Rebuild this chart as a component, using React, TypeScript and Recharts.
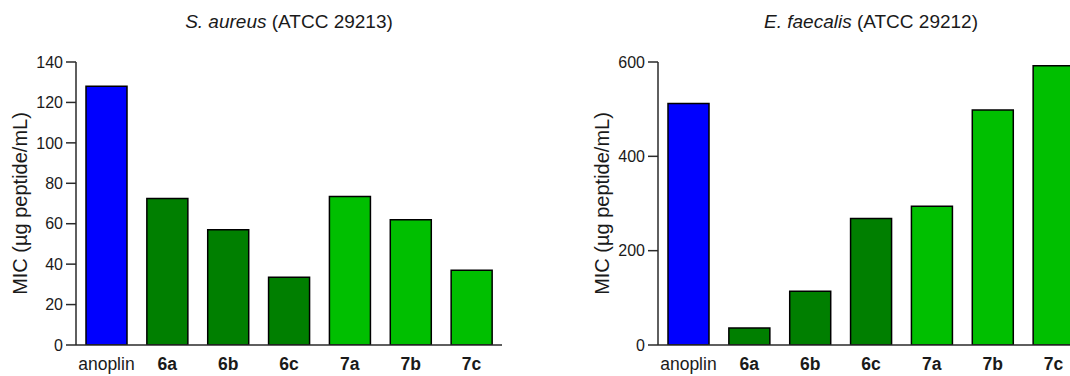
import React from "react";
import { BarChart, Bar, XAxis, YAxis, Cell } from "recharts";

const categories = ["anoplin", "6a", "6b", "6c", "7a", "7b", "7c"];
const aureusMic = [128, 72.5, 57, 33.5, 73.5, 62, 37];
const faecalisMic = [512, 36, 114, 268, 294, 498, 592];
const barColors = ["#0000FF", "#007F00", "#007F00", "#007F00", "#00BF00", "#00BF00", "#00BF00"];
const aureusTicks = [0, 20, 40, 60, 80, 100, 120, 140];
const faecalisTicks = [0, 200, 400, 600];
const yLabelText = "MIC (µg peptide/mL)";

const FONT = "'Liberation Sans', Arial, Helvetica, sans-serif";
const TEXT = "#1a1a1a";
const AXIS = "#2a2a2a";

const aureusData = categories.map((c, i) => ({ name: c, value: aureusMic[i] }));
const faecalisData = categories.map((c, i) => ({ name: c, value: faecalisMic[i] }));

function XTick(props: any) {
  const { x, y, payload } = props;
  const v = payload?.value;
  return (
    <text
      x={x}
      y={y + 25}
      textAnchor="middle"
      fontFamily={FONT}
      fontSize={17.5}
      fill={TEXT}
      fontWeight={v === "anoplin" ? "normal" : "bold"}
    >
      {v}
    </text>
  );
}

function YLabel(props: any) {
  const vb = props.viewBox || { x: 0, y: 62, width: 76, height: 283 };
  const cx = vb.x + vb.width - 56.5;
  const cy = vb.y + vb.height / 2;
  return (
    <text
      x={cx}
      y={cy}
      dy="0.355em"
      transform={`rotate(-90 ${cx} ${cy})`}
      textAnchor="middle"
      fontFamily={FONT}
      fontSize={20}
      fill={TEXT}
    >
      {yLabelText}
    </text>
  );
}

function Panel(props: {
  left: number;
  width: number;
  yWidth: number;
  marginRight: number;
  data: any[];
  ticks: number[];
  max: number;
  species: string;
  strain: string;
}) {
  const { left, width, yWidth, marginRight, data, ticks, max, species, strain } = props;
  const plotLeft = yWidth;
  const plotWidth = width - yWidth - marginRight;
  return (
    <div style={{ position: "absolute", left, top: 0, width, height: 376 }}>
      <div
        style={{
          position: "absolute",
          left: plotLeft,
          width: plotWidth,
          top: 12,
          textAlign: "center",
          fontFamily: FONT,
          fontSize: 19,
          lineHeight: "19px",
          color: TEXT,
          whiteSpace: "nowrap",
        }}
      >
        <i>{species}</i> ({strain})
      </div>
      <BarChart
        width={width}
        height={376}
        data={data}
        margin={{ top: 62, right: marginRight, bottom: 1, left: 0 }}
        barSize={41}
      >
        <XAxis
          dataKey="name"
          height={30}
          tickLine={false}
          tickSize={0}
          tickMargin={0}
          interval={0}
          axisLine={{ stroke: AXIS, strokeWidth: 1.5 }}
          tick={<XTick />}
        />
        <YAxis
          width={yWidth}
          domain={[0, max]}
          ticks={ticks}
          interval={0}
          allowDataOverflow
          tickSize={10}
          tickMargin={3}
          axisLine={{ stroke: AXIS, strokeWidth: 1.5 }}
          tickLine={{ stroke: AXIS, strokeWidth: 1.5 }}
          tick={{ fontFamily: FONT, fontSize: 16, fill: TEXT }}
          label={<YLabel />}
        />
        <Bar dataKey="value" isAnimationActive={false} stroke="#000" strokeWidth={1.5}>
          {data.map((d, i) => (
            <Cell key={d.name} fill={barColors[i]} />
          ))}
        </Bar>
      </BarChart>
    </div>
  );
}

export default function App() {
  return (
    <div
      style={{
        position: "fixed",
        left: 0,
        top: 0,
        width: 1070,
        height: 376,
        overflow: "hidden",
        background: "#fff",
      }}
    >
      <Panel
        left={0}
        width={560}
        yWidth={76}
        marginRight={58}
        data={aureusData}
        ticks={aureusTicks}
        max={140}
        species="S. aureus"
        strain="ATCC 29213"
      />
      <Panel
        left={560}
        width={524}
        yWidth={98}
        marginRight={0}
        data={faecalisData}
        ticks={faecalisTicks}
        max={600}
        species="E. faecalis"
        strain="ATCC 29212"
      />
    </div>
  );
}
